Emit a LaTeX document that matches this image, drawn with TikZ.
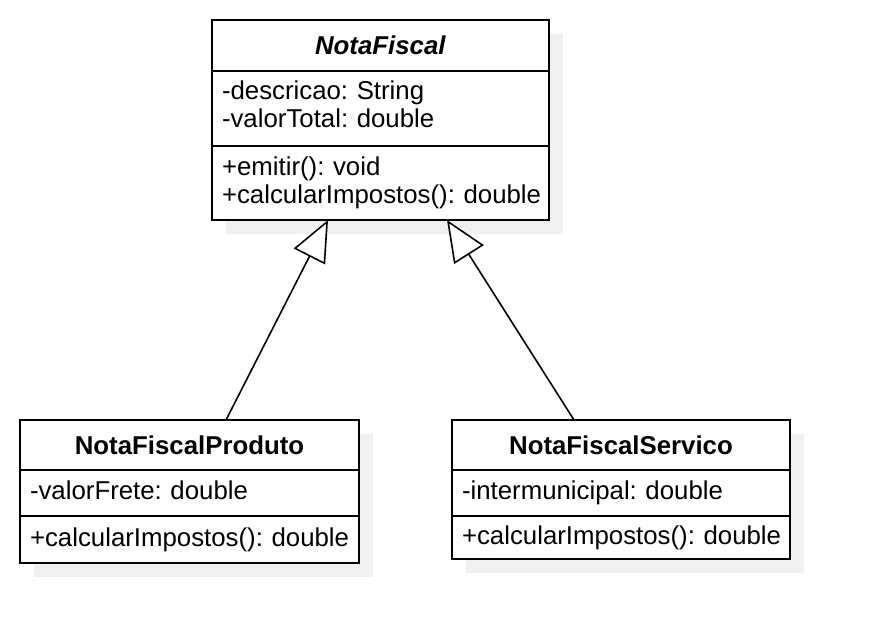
\documentclass[tikz,border=0pt]{standalone}
\usepackage{fontspec}
\setmainfont{Liberation Sans}
\usepackage{tikz}
\usetikzlibrary{positioning,arrows.meta,shadows}

\definecolor{shadowgray}{HTML}{F0F0F0}
\newcommand{\umlfont}{\fontsize{25.8pt}{28pt}\selectfont\frenchspacing}

\tikzset{
    umlbox/.style={draw, line width=2pt, fill=white, inner sep=0pt, outer sep=0pt,
        drop shadow={shadow xshift=14pt, shadow yshift=-14pt, fill=shadowgray, opacity=1}},
    umlhead/.style={umlbox, font=\umlfont\bfseries},
    umlpart/.style={umlbox, font=\umlfont, align=left, inner xsep=10pt, inner ysep=0pt},
    inherit/.style={line width=1.6pt, -{Triangle[open, fill=white, length=41pt, width=35pt, line width=1.6pt]}}
}

\begin{document}
\begin{tikzpicture}[x=1pt,y=-1pt,node distance=0pt]%[px units]
    \useasboundingbox[fill=white] (0,0) rectangle (870,644);

    % superclass
    \node[umlhead, minimum width=337pt, minimum height=51pt] (nf) at (380.5,45.5) {\textit{NotaFiscal}};
    \node[umlpart, below=of nf, text width=317pt, minimum height=75pt] (nfa) {-descricao: String\\-valorTotal: double\rule[-8pt]{0pt}{0pt}};
    \node[umlpart, below=of nfa, text width=317pt, minimum height=74pt] (nfm) {+emitir(): void\\\mbox{+calcularImpostos(): double}};

    % subclasses
    \node[umlhead, minimum width=339pt, minimum height=50pt] (nfp) at (189.5,445) {NotaFiscalProduto};
    \node[umlpart, below=of nfp, text width=319pt, minimum height=46pt] (nfpa) {-valorFrete: double\rule[-6pt]{0pt}{0pt}};
    \node[umlpart, below=of nfpa, text width=319pt, minimum height=47pt] (nfpm) {\mbox{+calcularImpostos(): double}};

    \node[umlhead, minimum width=338pt, minimum height=50pt] (nfs) at (621,445) {NotaFiscalServico};
    \node[umlpart, below=of nfs, text width=318pt, minimum height=46pt] (nfsa) {-intermunicipal: double};
    \node[umlpart, below=of nfsa, text width=318pt, minimum height=43pt] (nfsm) {\mbox{+calcularImpostos(): double}};

    \path[inherit]
            ([xshift=36.5pt]nfp.north) edge ([xshift=-52.5pt]nfm.south)
            ([xshift=-47pt]nfs.north) edge ([xshift=66.5pt]nfm.south);

\end{tikzpicture}
\end{document}
